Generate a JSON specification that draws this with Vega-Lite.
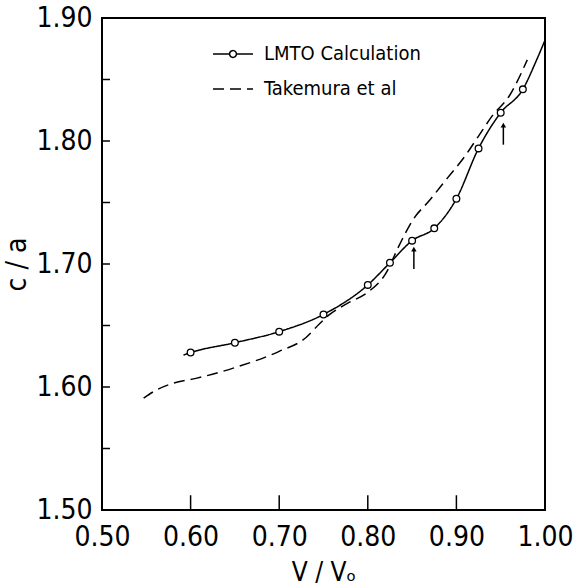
{
  "$schema": "https://vega.github.io/schema/vega-lite/v6.json",
  "width": 443,
  "height": 492,
  "autosize": {"type": "none"},
  "padding": {"left": 102, "top": 18, "right": 28, "bottom": 77},
  "background": "white",
  "config": {
    "view": {"stroke": "#000", "strokeWidth": 2},
    "font": "Liberation Sans Narrow, DejaVu Sans Condensed, sans-serif"
  },
  "datasets": {
    "takemura": [
      {"v": 0.547, "ca": 1.591, "series": "Takemura et al"},
      {"v": 0.56, "ca": 1.597, "series": "Takemura et al"},
      {"v": 0.58, "ca": 1.603, "series": "Takemura et al"},
      {"v": 0.606, "ca": 1.607, "series": "Takemura et al"},
      {"v": 0.651, "ca": 1.616, "series": "Takemura et al"},
      {"v": 0.70, "ca": 1.629, "series": "Takemura et al"},
      {"v": 0.73, "ca": 1.640, "series": "Takemura et al"},
      {"v": 0.745, "ca": 1.651, "series": "Takemura et al"},
      {"v": 0.757, "ca": 1.659, "series": "Takemura et al"},
      {"v": 0.777, "ca": 1.668, "series": "Takemura et al"},
      {"v": 0.80, "ca": 1.677, "series": "Takemura et al"},
      {"v": 0.82, "ca": 1.692, "series": "Takemura et al"},
      {"v": 0.836, "ca": 1.716, "series": "Takemura et al"},
      {"v": 0.851, "ca": 1.736, "series": "Takemura et al"},
      {"v": 0.87, "ca": 1.752, "series": "Takemura et al"},
      {"v": 0.89, "ca": 1.770, "series": "Takemura et al"},
      {"v": 0.91, "ca": 1.788, "series": "Takemura et al"},
      {"v": 0.925, "ca": 1.804, "series": "Takemura et al"},
      {"v": 0.94, "ca": 1.820, "series": "Takemura et al"},
      {"v": 0.96, "ca": 1.837, "series": "Takemura et al"},
      {"v": 0.98, "ca": 1.866, "series": "Takemura et al"}
    ],
    "lmto_curve": [
      {"v": 0.592, "ca": 1.626, "series": "LMTO Calculation"},
      {"v": 0.60, "ca": 1.628, "series": "LMTO Calculation"},
      {"v": 0.65, "ca": 1.636, "series": "LMTO Calculation"},
      {"v": 0.70, "ca": 1.645, "series": "LMTO Calculation"},
      {"v": 0.75, "ca": 1.659, "series": "LMTO Calculation"},
      {"v": 0.80, "ca": 1.683, "series": "LMTO Calculation"},
      {"v": 0.825, "ca": 1.701, "series": "LMTO Calculation"},
      {"v": 0.85, "ca": 1.719, "series": "LMTO Calculation"},
      {"v": 0.875, "ca": 1.729, "series": "LMTO Calculation"},
      {"v": 0.90, "ca": 1.753, "series": "LMTO Calculation"},
      {"v": 0.925, "ca": 1.794, "series": "LMTO Calculation"},
      {"v": 0.95, "ca": 1.823, "series": "LMTO Calculation"},
      {"v": 0.975, "ca": 1.842, "series": "LMTO Calculation"},
      {"v": 0.99, "ca": 1.865, "series": "LMTO Calculation"},
      {"v": 1.0, "ca": 1.882, "series": "LMTO Calculation"}
    ],
    "lmto_points": [
      {"v": 0.60, "ca": 1.628},
      {"v": 0.65, "ca": 1.636},
      {"v": 0.70, "ca": 1.645},
      {"v": 0.75, "ca": 1.659},
      {"v": 0.80, "ca": 1.683},
      {"v": 0.825, "ca": 1.701},
      {"v": 0.85, "ca": 1.719},
      {"v": 0.875, "ca": 1.729},
      {"v": 0.90, "ca": 1.753},
      {"v": 0.925, "ca": 1.794},
      {"v": 0.95, "ca": 1.823},
      {"v": 0.975, "ca": 1.842}
    ],
    "arrows": [
      {"v": 0.852, "lo": 1.696, "hi": 1.712},
      {"v": 0.953, "lo": 1.797, "hi": 1.813}
    ],
    "yticks": [
      {"v": 0.5, "v2": 0.509, "ca": 1.55},
      {"v": 0.5, "v2": 0.509, "ca": 1.6},
      {"v": 0.5, "v2": 0.509, "ca": 1.65},
      {"v": 0.5, "v2": 0.509, "ca": 1.7},
      {"v": 0.5, "v2": 0.509, "ca": 1.75},
      {"v": 0.5, "v2": 0.509, "ca": 1.8},
      {"v": 0.5, "v2": 0.509, "ca": 1.85}
    ],
    "xticks": [
      {"v": 0.6, "ca": 1.5, "ca2": 1.512},
      {"v": 0.7, "ca": 1.5, "ca2": 1.512},
      {"v": 0.8, "ca": 1.5, "ca2": 1.512},
      {"v": 0.9, "ca": 1.5, "ca2": 1.512}
    ]
  },
  "encoding": {
    "x": {
      "field": "v", "type": "quantitative",
      "scale": {"domain": [0.5, 1.0], "nice": false, "zero": false},
      "axis": {
        "title": "V / Vₒ",
        "values": [0.5, 0.6, 0.7, 0.8, 0.9, 1.0],
        "format": ".2f",
        "grid": false, "domain": false, "ticks": false,
        "labelFlush": false, "labelOverlap": false,
        "labelFontSize": 28, "labelColor": "#000", "labelPadding": 13,
        "labelFont": "Liberation Sans Narrow, DejaVu Sans Condensed, sans-serif",
        "titleFont": "Liberation Sans Narrow, DejaVu Sans Condensed, sans-serif",
        "titleFontSize": 26, "titleFontWeight": "normal", "titleColor": "#000", "titlePadding": 8
      }
    },
    "y": {
      "field": "ca", "type": "quantitative",
      "scale": {"domain": [1.5, 1.9], "nice": false, "zero": false},
      "axis": {
        "title": "c / a",
        "values": [1.5, 1.6, 1.7, 1.8, 1.9],
        "format": ".2f",
        "grid": false, "domain": false, "ticks": false,
        "labelFlush": false, "labelOverlap": false,
        "labelFontSize": 28, "labelColor": "#000", "labelPadding": 10,
        "labelFont": "Liberation Sans Narrow, DejaVu Sans Condensed, sans-serif",
        "titleFont": "Liberation Sans Narrow, DejaVu Sans Condensed, sans-serif",
        "titleFontSize": 28, "titleFontWeight": "normal", "titleColor": "#000", "titlePadding": 4
      }
    }
  },
  "layer": [
    {
      "data": {"name": "takemura"},
      "mark": {"type": "line", "interpolate": "monotone", "color": "#000", "strokeWidth": 1.5},
      "encoding": {
        "strokeDash": {
          "field": "series", "type": "nominal",
          "scale": {"domain": ["LMTO Calculation", "Takemura et al"], "range": [[1, 0], [11, 6]]},
          "legend": {
            "title": null,
            "orient": "none",
            "legendX": 110,
            "legendY": 15,
            "padding": 0,
            "rowPadding": 4,
            "symbolSize": 1600,
            "symbolStrokeWidth": 1.5,
            "symbolStrokeColor": "#000",
            "labelFontSize": 20,
            "labelColor": "#000",
            "labelOffset": 10,
            "labelFont": "Liberation Sans Narrow, DejaVu Sans Condensed, sans-serif",
            "encode": {
              "symbols": {
                "update": {
                  "shape": {"signal": "datum.value === 'LMTO Calculation' ? 'M-1,0H-0.17M0.17,0H1M0.17,0A0.17,0.17 0 1,1 -0.17,0A0.17,0.17 0 1,1 0.17,0' : 'stroke'"},
                  "fill": {"value": "white"},
                  "stroke": {"value": "#000"}
                }
              }
            }
          }
        }
      }
    },
    {
      "data": {"name": "lmto_curve"},
      "mark": {"type": "line", "interpolate": "monotone", "color": "#000", "strokeWidth": 1.5},
      "encoding": {
        "strokeDash": {"field": "series", "type": "nominal"}
      }
    },
    {
      "data": {"name": "lmto_points"},
      "mark": {"type": "point", "shape": "circle", "filled": true, "fill": "white", "stroke": "#000", "strokeWidth": 1.3, "size": 45, "opacity": 1}
    },
    {
      "data": {"name": "arrows"},
      "mark": {"type": "rule", "color": "#000", "strokeWidth": 1.5},
      "encoding": {
        "y": {"field": "lo", "type": "quantitative"},
        "y2": {"field": "hi"}
      }
    },
    {
      "data": {"name": "arrows"},
      "mark": {"type": "point", "shape": "triangle-up", "filled": true, "color": "#000", "size": 30, "opacity": 1},
      "encoding": {
        "y": {"field": "hi", "type": "quantitative"}
      }
    },
    {
      "data": {"name": "yticks"},
      "mark": {"type": "rule", "color": "#000", "strokeWidth": 1.5},
      "encoding": {
        "x2": {"field": "v2"}
      }
    },
    {
      "data": {"name": "xticks"},
      "mark": {"type": "rule", "color": "#000", "strokeWidth": 1.5},
      "encoding": {
        "y2": {"field": "ca2"}
      }
    }
  ]
}
